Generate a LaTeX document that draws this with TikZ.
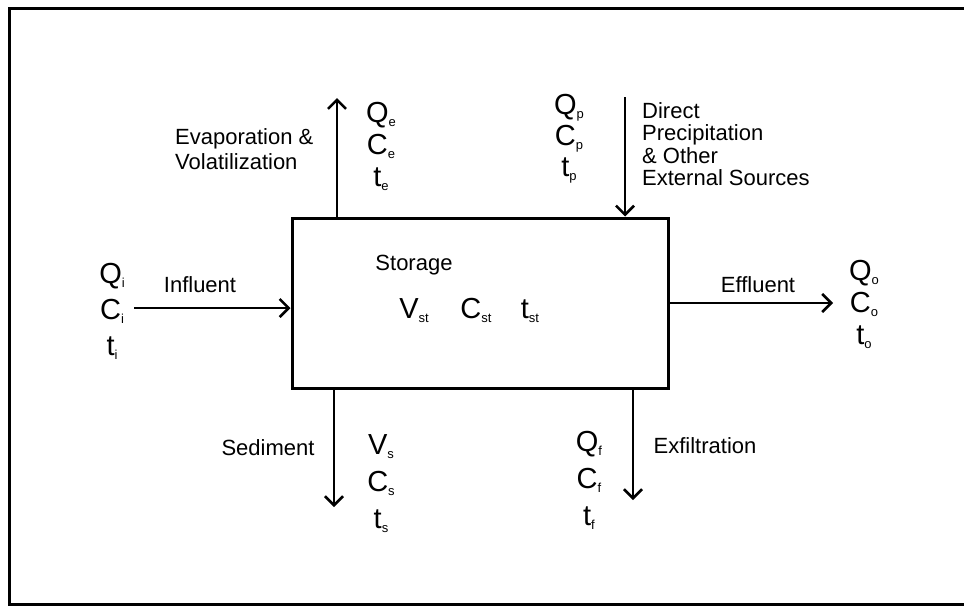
\documentclass[tikz,border=0pt]{standalone}
\usepackage{fontspec}
\setmainfont{Liberation Sans}
\usetikzlibrary{arrows.meta}

% flow variable: big letter with small subscript
\newcommand{\fv}[2]{{\fontsize{29}{29}\selectfont #1}\raisebox{-4pt}{\fontsize{13}{13}\selectfont #2}}

\begin{document}
\begin{tikzpicture}[x=1pt, y=-1pt,
    flow/.style={line width=2.6pt, -{Straight Barb[length=9pt, width=18pt]}},
    txt/.style={font=\fontsize{22}{25}\selectfont, inner sep=0pt},
    vars/.style={align=center, inner sep=0pt, font=\fontsize{29}{32}\selectfont}]
  \useasboundingbox (0,0) rectangle (964,614);
  % outer frame
  \draw[line width=3pt] (964,8) -- (9,8) -- (9,604) -- (964,604);

  % storage box
  \node[draw, line width=3pt, minimum width=376pt, minimum height=170pt, inner sep=0pt] (storage) at (480,303) {};
  \node[txt, anchor=base] (storageLbl) at (414,270) {Storage};
  \node[inner sep=0pt, anchor=base] (storageV) at (414,318) {\fv{V}{st}};
  \node[inner sep=0pt, anchor=base] (storageC) at (476,318) {\fv{C}{st}};
  \node[inner sep=0pt, anchor=base] (storageT) at (530,318) {\fv{t}{st}};

  % influent
  \coordinate (inTail) at (134,308);
  \draw[flow] (inTail) -- (inTail -| storage.west);
  \node[txt, anchor=base] (influent) at (200,292) {Influent};
  \node[vars, font=\fontsize{29}{36}\selectfont] (inVars) at (112,311) {\fv{Q}{i}\\\fv{C}{i}\\\fv{t}{i}};

  % effluent
  \coordinate (effTip) at (833,303);
  \draw[flow] (effTip -| storage.east) -- (effTip);
  \node[txt, anchor=base] (effluent) at (758,292) {Effluent};
  \node[vars] (effVars) at (864,304) {\fv{Q}{o}\\\fv{C}{o}\\\fv{t}{o}};

  % evaporation
  \coordinate (evapTip) at (337,98);
  \draw[flow] (evapTip |- storage.north) -- (evapTip);
  \node[txt, anchor=west, align=left] (evap) at (175,149) {Evaporation \&\\Volatilization};
  \node[vars] (evapVars) at (381,146) {\fv{Q}{e}\\\fv{C}{e}\\\fv{t}{e}};

  % precipitation
  \coordinate (precTail) at (625,97);
  \draw[flow] (precTail) -- (precTail |- storage.north);
  \node[txt, anchor=west, align=left, font=\fontsize{22}{22.5}\selectfont] (prec) at (642,144)
    {Direct\\Precipitation\\\& Other\\External Sources};
  \node[vars, font=\fontsize{29}{31}\selectfont] (precVars) at (569,139) {\fv{Q}{p}\\\fv{C}{p}\\\fv{t}{p}};

  % sediment
  \coordinate (sedTip) at (334,507);
  \draw[flow] (sedTip |- storage.south) -- (sedTip);
  \node[txt, anchor=base] (sediment) at (268,455) {Sediment};
  \node[vars, font=\fontsize{29}{37}\selectfont] (sedVars) at (381,484) {\fv{V}{s}\\\fv{C}{s}\\\fv{t}{s}};

  % exfiltration
  \coordinate (exfTip) at (633,500);
  \draw[flow] (exfTip |- storage.south) -- (exfTip);
  \node[txt, anchor=base] (exfil) at (705,453) {Exfiltration};
  \node[vars, font=\fontsize{29}{37}\selectfont] (exfVars) at (589,480) {\fv{Q}{f}\\\fv{C}{f}\\\fv{t}{f}};
\end{tikzpicture}
\end{document}
